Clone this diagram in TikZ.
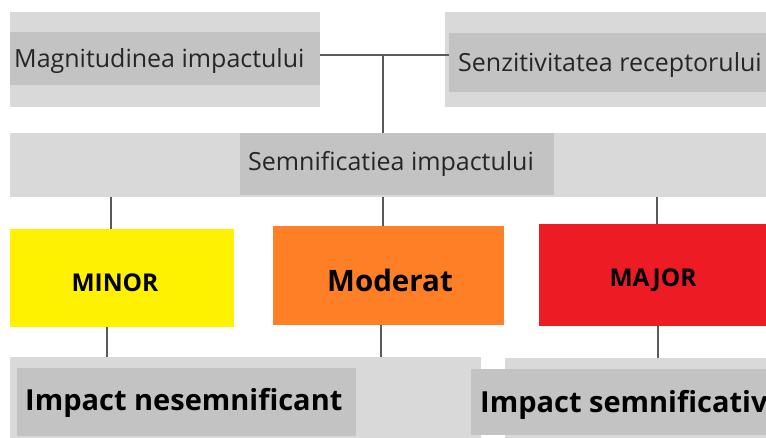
\documentclass[tikz,border=0pt]{standalone}
\usepackage{fontspec}
\setmainfont{Open Sans}
\definecolor{lightg}{HTML}{D9D9D9}
\definecolor{darkg}{HTML}{C3C3C3}
\definecolor{yel}{HTML}{FFF200}
\definecolor{ora}{HTML}{FF7F27}
\definecolor{redc}{HTML}{ED1C24}
\definecolor{linec}{HTML}{5A5A5A}
\definecolor{txt}{HTML}{262626}
\tikzset{
  box/.style={draw=none, inner sep=0pt, outer sep=0pt, anchor=north west},
  lightbox/.style={box, fill=lightg},
  darkbox/.style={box, fill=darkg},
  lbl/.style={inner sep=0pt, anchor=base west, text=txt, font=\fontsize{25}{29}\selectfont},
  blbl/.style={inner sep=0pt, anchor=base, text=black, font=\bfseries\fontsize{24.5}{28}\selectfont},
  biglbl/.style={inner sep=0pt, anchor=base west, text=black, font=\bfseries\fontsize{29}{33}\selectfont},
  conn/.style={draw=linec, line width=2pt},
}
\begin{document}
\begin{tikzpicture}[x=1pt,y=-1pt]
\useasboundingbox (0,0) rectangle (766,438);
\clip (0,0) rectangle (766,438);
% top row
\node[lightbox, minimum width=310pt, minimum height=95pt] (tl) at (10,12) {};
\node[darkbox, minimum width=310pt, minimum height=53pt] (tlb) at (10,32) {};
\node[lbl] (tlt) at (14,68) {Magnitudinea impactului};
\node[lightbox, minimum width=321pt, minimum height=95pt] (tr) at (445,12) {};
\node[darkbox, minimum width=317pt, minimum height=59pt] (trb) at (449,33) {};
\node[lbl] (trt) at (458,72) {Senzitivitatea receptorului};
% middle
\node[lightbox, minimum width=756pt, minimum height=64pt] (mid) at (10,133) {};
\node[darkbox, minimum width=314pt, minimum height=62pt] (midb) at (240,133) {};
\node[lbl] (midt) at (248,171) {Semnificatiea impactului};
% coloured boxes
\node[box, fill=yel, minimum width=224pt, minimum height=98pt] (yb) at (10,229) {};
\node[blbl] at (115,292) {MINOR};
\node[box, fill=ora, minimum width=231pt, minimum height=99pt] (ob) at (273,226) {};
\node[blbl, font=\bfseries\fontsize{29.5}{33}\selectfont] at (390,292) {Moderat};
\node[box, fill=redc, minimum width=227pt, minimum height=102pt] (rb) at (539,224) {};
\node[blbl] at (653,287) {MAJOR};
% bottom
\node[lightbox, minimum width=471pt, minimum height=81pt] (bl) at (10,357) {};
\node[lightbox, minimum width=261pt, minimum height=80pt] (br) at (505,358) {};
\node[darkbox, minimum width=339pt, minimum height=68pt] (blb) at (17,368) {};
\node[biglbl] at (25,410) {Impact nesemnificant};
\node[darkbox, minimum width=295pt, minimum height=66pt] (brb) at (471,369) {};
\node[biglbl] at (480,412) {Impact semnificativ};
% connectors
\coordinate (j) at (383,55);
\draw[conn] (tl.east |- j) -- (trb.west |- j);
\draw[conn] (j) -- (j |- mid.north);
\coordinate (x1) at (111,0);
\coordinate (x2) at (383,0);
\coordinate (x3) at (657,0);
\draw[conn] (mid.south -| x1) -- (yb.north -| x1);
\draw[conn] (mid.south -| x2) -- (ob.north -| x2);
\draw[conn] (mid.south -| x3) -- (rb.north -| x3);
\coordinate (y1) at (107,0);
\coordinate (y2) at (381,0);
\coordinate (y3) at (658,0);
\draw[conn] (yb.south -| y1) -- (bl.north -| y1);
\draw[conn] (ob.south -| y2) -- (bl.north -| y2);
\draw[conn] (rb.south -| y3) -- (br.north -| y3);
\end{tikzpicture}
\end{document}
